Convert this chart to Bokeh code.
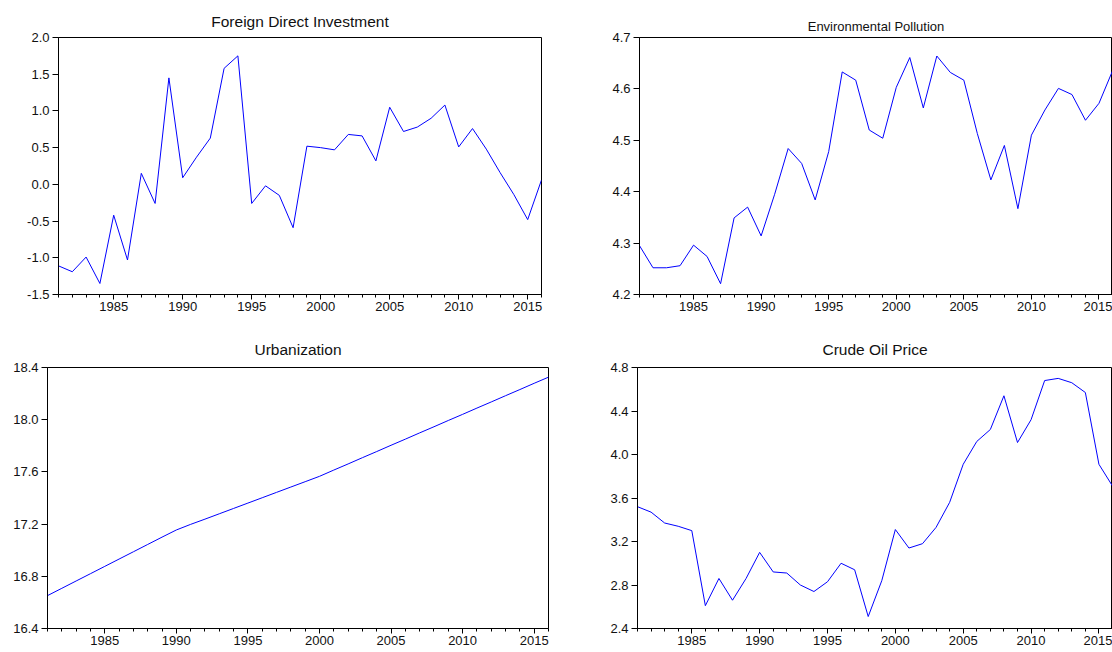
from bokeh.plotting import figure
from bokeh.layouts import column, row
from bokeh.models import Range1d, FixedTicker, PrintfTickFormatter, Title, LinearAxis
from bokeh.embed import file_html
from bokeh.resources import INLINE

years = list(range(1981, 2017))

fdi = [-1.11, -1.19, -0.99, -1.35, -0.42, -1.03, 0.15, -0.26, 1.45, 0.09,
       0.37, 0.63, 1.58, 1.75, -0.26, -0.02, -0.15, -0.59, 0.52, 0.50,
       0.47, 0.68, 0.66, 0.32, 1.05, 0.72, 0.78, 0.90, 1.08, 0.51,
       0.76, 0.48, 0.16, -0.14, -0.48, 0.06]

pollution = [4.295, 4.252, 4.252, 4.256, 4.296, 4.274, 4.221, 4.349, 4.370, 4.314,
             4.395, 4.484, 4.455, 4.384, 4.478, 4.633, 4.617, 4.520, 4.504, 4.603,
             4.661, 4.563, 4.664, 4.632, 4.617, 4.513, 4.423, 4.490, 4.367, 4.510,
             4.559, 4.601, 4.589, 4.539, 4.572, 4.635]

urban = [16.652, 16.708, 16.764, 16.820, 16.876, 16.932, 16.988, 17.044, 17.100, 17.155,
         17.198, 17.238, 17.279, 17.320, 17.361, 17.402, 17.443, 17.484, 17.525, 17.566,
         17.614, 17.661, 17.709, 17.756, 17.804, 17.851, 17.899, 17.946, 17.994, 18.041,
         18.089, 18.136, 18.184, 18.231, 18.279, 18.326]

oil = [3.52, 3.47, 3.37, 3.34, 3.30, 2.61, 2.86, 2.66, 2.86, 3.10,
       2.92, 2.91, 2.80, 2.74, 2.83, 3.00, 2.94, 2.51, 2.84, 3.31,
       3.14, 3.18, 3.33, 3.56, 3.91, 4.12, 4.23, 4.54, 4.11, 4.32,
       4.68, 4.70, 4.66, 4.57, 3.91, 3.71]

x_major = [1985, 1990, 1995, 2000, 2005, 2010, 2015]

fdi_ticks = [-1.5, -1.0, -0.5, 0.0, 0.5, 1.0, 1.5, 2.0]
pol_ticks = [4.2, 4.3, 4.4, 4.5, 4.6, 4.7]
urb_ticks = [16.4, 16.8, 17.2, 17.6, 18.0, 18.4]
oil_ticks = [2.4, 2.8, 3.2, 3.6, 4.0, 4.4, 4.8]

FONT = "Liberation Sans"


def panel(title, values, yticks, width, height, bl, br, bt, bb, title_size, standoff, gap=0):
    p = figure(width=width, height=height, output_backend="svg", toolbar_location=None,
               x_range=Range1d(years[0], years[-1]),
               y_range=Range1d(yticks[0], yticks[-1]),
               min_border_left=bl, min_border_right=br,
               min_border_top=bt, min_border_bottom=bb)
    p.title = Title(text=title, align="center", text_font=FONT,
                    text_font_size=title_size, text_font_style="normal",
                    text_color="#111111", standoff=standoff)
    if gap:
        # invisible axis used only as vertical space between title and frame
        spacer = LinearAxis(ticker=FixedTicker(ticks=[], minor_ticks=[]),
                            axis_line_color=None, major_tick_line_color=None,
                            minor_tick_line_color=None, major_tick_out=gap,
                            major_tick_in=0, minor_tick_out=0, minor_tick_in=0,
                            major_label_standoff=0, major_label_text_font_size="1px",
                            major_label_text_alpha=0)
        p.add_layout(spacer, "above")
    p.line(years, values, line_color="#0000ff", line_width=1)
    p.xgrid.visible = False
    p.ygrid.visible = False
    p.outline_line_color = "black"
    p.outline_line_width = 1
    p.background_fill_color = "white"
    p.border_fill_color = "white"

    xa = p.below[0]
    xa.ticker = FixedTicker(ticks=x_major, minor_ticks=years)
    xa.major_tick_out = 5
    xa.major_tick_in = 0
    xa.minor_tick_out = 3
    xa.minor_tick_in = 0
    xa.major_label_standoff = 2
    ya = p.left[0]
    ya.ticker = FixedTicker(ticks=yticks, minor_ticks=[])
    ya.formatter = PrintfTickFormatter(format="%.1f")
    ya.major_tick_out = 6
    ya.major_tick_in = 0
    ya.minor_tick_out = 0
    ya.minor_tick_in = 0
    ya.major_label_standoff = 3
    for ax in (xa, ya):
        ax.axis_line_color = "black"
        ax.major_tick_line_color = "black"
        ax.minor_tick_line_color = "black"
        ax.major_label_text_font = FONT
        ax.major_label_text_font_size = "13px"
        ax.major_label_text_color = "#111111"
    return p


p1 = panel("Foreign Direct Investment", fdi, fdi_ticks, 590, 318, 58, 49, 37, 24, "15.5px", 15)
p2 = panel("Environmental Pollution", pollution, pol_ticks, 522, 318, 49, 0, 37, 24, "13px", 7)
p3 = panel("Urbanization", urban, urb_ticks, 590, 334, 47, 42, 49, 24, "15.5px", 20, gap=20)
p4 = panel("Crude Oil Price", oil, oil_ticks, 522, 334, 47, 0, 49, 24, "15.5px", 20, gap=20)

layout = column(row(p1, p2), row(p3, p4))

open("out.html", "w").write(file_html(layout, INLINE))
